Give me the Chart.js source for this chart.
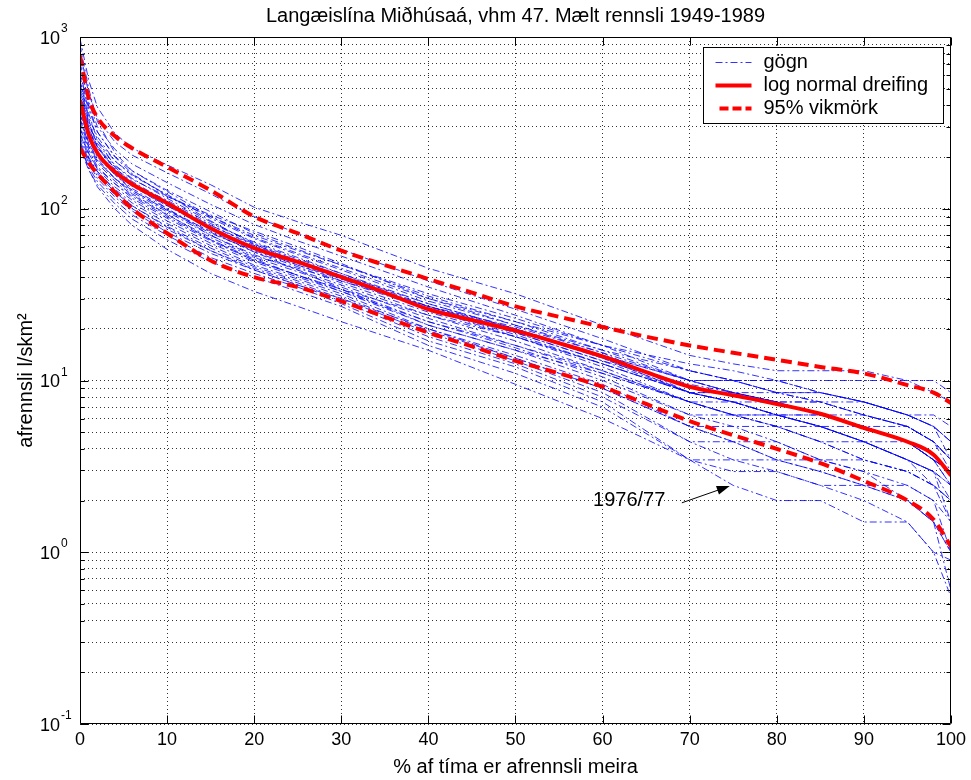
<!DOCTYPE html>
<html>
<head>
<meta charset="utf-8">
<script src="https://cdn.jsdelivr.net/npm/chart.js@4.4.1/dist/chart.umd.min.js"></script>
<style>
  html, body { margin: 0; padding: 0; background: #fff; }
</style>
</head>
<body>
<canvas id="fdc" width="971" height="780"></canvas>
<script>
// % of time the flow is exceeded (x grid of the measured curves)
const pctTime = [0, 1, 2, 4, 6, 10, 15, 20, 25, 30, 40, 50, 60, 70, 75, 80, 85, 90, 95, 98, 100];
// x grid of the fitted curves
const fitPct = [0, 1, 2, 4, 6, 10, 15, 20, 25, 30, 35, 40, 45, 50, 55, 60, 65, 70, 75, 80, 85, 90, 95, 98, 100];

// fitted log normal curve and its 95% band (l/s/km2)
const logNormal = [430, 270, 211, 164, 139, 108, 77, 59, 49, 40, 32.5, 26, 22.5, 19.5, 16.5, 13.8, 11.2, 9.2, 8.2, 7.3, 6.4, 5.3, 4.4, 3.7, 2.8];
const upper95   = [780, 440, 340, 265, 225, 175, 128, 90, 72, 57, 47, 39, 32.5, 27, 23.5, 20.5, 18, 16, 14.5, 13.2, 12, 11, 9.4, 8.5, 7.4];
const lower95   = [226, 185, 160, 125, 100, 72, 50, 40, 35, 29, 23.5, 19, 15.8, 13, 11, 9.2, 7.3, 5.8, 4.8, 4.0, 3.3, 2.6, 2.0, 1.55, 1.08];

// measured yearly duration curves (gögn)
const yearlyFlows = [
  [980, 560, 390, 275, 225, 180, 138, 102, 84, 70, 45, 32, 21, 14, 12.5, 11.4, 11.4, 11.4, 10, 10, 8.5],
  [820, 470, 335, 245, 205, 162, 122, 90, 72, 58, 38, 26, 17.5, 11.4, 10, 10, 10, 10, 10, 8.5, 7.5],
  [700, 420, 300, 222, 182, 142, 106, 81, 65, 53, 35, 24, 16, 10, 10, 8.5, 8.5, 7.5, 6.3, 6.3, 5.4],
  [620, 380, 280, 202, 166, 128, 96, 72, 58, 47, 31, 22, 15, 10, 8.5, 8.5, 7.5, 6.3, 5.4, 4.4, 3.45],
  [560, 340, 262, 190, 156, 121, 88, 67, 54, 44, 29, 21, 14.5, 8.5, 8.5, 7.5, 6.3, 6.3, 5.4, 4.4, 3.45],
  [520, 310, 240, 180, 150, 115, 84, 63, 51, 42, 28, 20, 13.5, 8.5, 7.5, 7.5, 6.3, 5.4, 4.4, 3.45, 2.95],
  [480, 292, 226, 172, 144, 110, 80, 61, 49, 40, 27, 19, 13, 9.5, 8.5, 7.5, 7.5, 6.3, 5.4, 4.4, 3.45],
  [450, 272, 212, 164, 137, 104, 76, 58, 47, 38, 26, 18.5, 12.5, 8.5, 7.5, 6.3, 5.4, 5.4, 4.4, 3.45, 2.45],
  [420, 252, 200, 158, 131, 100, 73, 56, 46, 37, 25, 18, 12, 7.5, 7.5, 6.3, 6.3, 5.4, 4.4, 3.45, 2.95],
  [390, 240, 190, 150, 125, 96, 70, 54, 44, 36, 24, 17, 11.4, 7.5, 6.3, 6.3, 5.4, 4.4, 3.45, 2.95, 2.45],
  [360, 230, 184, 145, 120, 92, 68, 52, 43, 35, 23, 16, 11, 7.5, 6.3, 5.4, 5.4, 4.4, 3.45, 2.95, 2.0],
  [340, 220, 176, 140, 115, 88, 65, 50, 41, 34, 22, 15.5, 10.5, 6.3, 6.3, 5.4, 4.4, 4.4, 3.45, 2.45, 2.0],
  [320, 210, 170, 134, 112, 85, 63, 49, 40, 33, 21, 15, 10, 6.3, 5.4, 5.4, 4.4, 3.45, 2.95, 2.45, 1.5],
  [300, 200, 164, 130, 108, 82, 61, 47, 39, 32, 20, 14, 9.5, 5.4, 5.4, 4.4, 3.45, 3.45, 2.95, 2.45, 2.0],
  [280, 195, 160, 125, 104, 79, 59, 46, 38, 31, 19.5, 13.5, 9, 5.4, 4.4, 4.4, 3.45, 2.95, 2.45, 2.0, 1.5],
  [262, 190, 155, 120, 100, 76, 57, 45, 37, 30, 19, 13, 8.5, 4.4, 4.4, 3.45, 3.45, 2.95, 2.0, 1.5, 1.0],
  [250, 184, 150, 117, 97, 73, 55, 44, 36, 29, 18, 12.5, 8, 4.4, 3.45, 3.45, 2.95, 2.45, 2.0, 1.5, 1.0],
  [238, 175, 144, 112, 92, 70, 52, 42, 35, 28, 17, 12, 7.5, 3.45, 3.45, 2.95, 2.45, 2.45, 2.0, 1.5, 0.6],
  [226, 168, 138, 107, 87, 66, 49, 40, 33, 27, 16, 11, 7, 3.45, 2.95, 2.95, 2.45, 2.0, 1.5, 1.0, 0.55],
  [600, 330, 232, 170, 140, 112, 82, 64, 52, 42, 27, 20, 14, 10, 8.5, 7.5, 7.5, 6.3, 5.4, 4.4, 2.95],
  [380, 262, 206, 160, 135, 104, 78, 60, 48, 39, 26, 19, 13, 8.5, 8.5, 7.5, 6.3, 5.4, 4.4, 3.45, 2.45],
  [500, 300, 216, 158, 128, 98, 72, 57, 47, 39, 27, 20.5, 14.5, 10, 10, 8.5, 8.5, 7.5, 6.3, 5.4, 4.4],
  [330, 240, 196, 150, 122, 93, 66, 50, 41, 34, 24, 18, 12.5, 8.5, 7.5, 6.3, 5.4, 4.4, 3.45, 2.95, 2.45],
  [900, 500, 322, 212, 166, 126, 90, 70, 57, 47, 32, 23, 16, 11.4, 10, 10, 8.5, 7.5, 6.3, 5.4, 4.4],
  [760, 400, 280, 200, 160, 118, 92, 74, 60, 48, 30, 21, 15, 11.4, 10, 8.5, 7.5, 7.5, 6.3, 5.4, 4.4],
  [350, 280, 230, 175, 140, 100, 70, 53, 45, 38, 27, 19.5, 13.5, 8.5, 7.5, 6.3, 6.3, 5.4, 4.4, 3.45, 2.95],
  [290, 230, 190, 150, 128, 98, 74, 56, 44, 34, 21, 15, 11, 7.5, 6.3, 5.4, 4.4, 3.45, 2.95, 2.45, 2.0],
  [660, 360, 250, 178, 148, 118, 90, 68, 55, 45, 30, 22, 16, 12.5, 11.4, 10, 8.5, 7.5, 6.3, 5.4, 3.45],
  [270, 210, 172, 140, 118, 90, 66, 51, 41, 33, 22, 16, 11.4, 7.5, 6.3, 6.3, 5.4, 4.4, 3.45, 2.95, 1.5],
  [420, 300, 250, 190, 158, 120, 85, 62, 49, 40, 26, 18, 12.5, 8.5, 7.5, 6.3, 5.4, 4.4, 4.4, 3.45, 2.95],
  [240, 195, 165, 128, 104, 78, 57, 44, 36, 30, 20, 13.5, 9, 5.4, 4.4, 3.45, 2.95, 2.45, 2.45, 2.0, 1.0],
  [540, 320, 228, 168, 138, 106, 80, 62, 50, 41, 28, 20, 14, 10, 8.5, 7.5, 6.3, 5.4, 5.4, 4.4, 3.45]
];
// the dry year that gets the arrow
const dry1976 = [240, 170, 134, 100, 80, 58, 42, 33, 27, 22, 15, 9.5, 6, 3.45, 2.45, 2.0, 2.0, 1.5, 1.5, 1.0, 0.9];

const xTickValues = [0, 10, 20, 30, 40, 50, 60, 70, 80, 90, 100];
const decades = [0.1, 1, 10, 100, 1000];
const decadeExponents = ['-1', '0', '1', '2', '3'];
const minorSteps = [2, 3, 4, 5, 6, 7, 8, 9];

const titleText = 'Langæislína Miðhúsaá, vhm 47. Mælt rennsli 1949-1989';
const xTitle = '% af tíma er afrennsli meira';
const yTitle = 'afrennsli l/skm²';
const noteText = '1976/77';

const FONT = "'Liberation Sans', Arial, Helvetica, sans-serif";
Chart.defaults.font.family = FONT;
Chart.defaults.color = '#000';

// log grid values: every 1..9 x decade
const yGridValues = [];
decades.forEach((d, i) => {
  yGridValues.push(d);
  if (i < decades.length - 1) minorSteps.forEach(m => yGridValues.push(+(d * m).toPrecision(3)));
});

const toPoints = (xs, arr) => xs.map((x, i) => ({x: x, y: arr[i]}));

const blueStyle = {borderColor: 'rgba(0,0,255,0.8)', borderWidth: 1, borderDash: [7, 3, 2, 3]};
const redSolid = {borderColor: '#ff0000', borderWidth: 4, borderDash: []};
const redDash = {borderColor: '#ff0000', borderWidth: 4, borderDash: [11, 6]};

const datasets = [];
yearlyFlows.concat([dry1976]).forEach(f => {
  datasets.push(Object.assign({label: 'gögn', data: toPoints(pctTime, f), order: 2, tension: 0}, blueStyle));
});
datasets.push(Object.assign({label: 'log normal dreifing', data: toPoints(fitPct, logNormal), order: 0,
  cubicInterpolationMode: 'monotone'}, redSolid));
datasets.push(Object.assign({label: '95% vikmörk', data: toPoints(fitPct, upper95), order: 1,
  cubicInterpolationMode: 'monotone'}, redDash));
datasets.push(Object.assign({label: '95% vikmörk', data: toPoints(fitPct, lower95), order: 1,
  cubicInterpolationMode: 'monotone'}, redDash));

// where the 1976/77 note sits, in data units
const note = {textAt: {x: 67.2, y: 2.0}, from: {x: 69.1, y: 1.94}, to: {x: 74.6, y: 2.43}};

// MATLAB style box, inward ticks and 10^n labels
const matlabFrame = {
  id: 'matlabFrame',
  afterDatasetsDraw(chart) {
    const {ctx, chartArea: a, scales: {x, y}} = chart;
    ctx.save();
    ctx.strokeStyle = '#000';
    ctx.lineWidth = 1;
    const L = Math.round(a.left) + 0.5, R = Math.round(a.right) - 0.5;
    const T = Math.round(a.top) + 0.5, B = Math.round(a.bottom) - 0.5;
    ctx.beginPath();
    ctx.rect(L, T, R - L, B - T);
    xTickValues.forEach(v => {
      const px = Math.round(x.getPixelForValue(v)) + 0.5;
      ctx.moveTo(px, B); ctx.lineTo(px, B - 8);
      ctx.moveTo(px, T); ctx.lineTo(px, T + 8);
    });
    yGridValues.forEach(v => {
      const py = Math.round(y.getPixelForValue(v)) + 0.5;
      const len = decades.includes(v) ? 8 : 4;
      ctx.moveTo(L, py); ctx.lineTo(L + len, py);
      ctx.moveTo(R, py); ctx.lineTo(R - len, py);
    });
    ctx.stroke();

    ctx.fillStyle = '#000';
    decades.forEach((d, i) => {
      const py = y.getPixelForValue(d);
      ctx.font = '18px ' + FONT;
      ctx.textAlign = 'right';
      ctx.textBaseline = 'alphabetic';
      ctx.fillText('10', a.left - 20, py + 6.5);
      ctx.font = '12px ' + FONT;
      ctx.textAlign = 'left';
      ctx.fillText(decadeExponents[i], a.left - 19, py - 5);
    });
    ctx.restore();
  },
  afterDraw(chart) {
    const {ctx, chartArea: a, scales: {x, y}} = chart;
    ctx.save();
    // note with arrow
    ctx.fillStyle = '#000';
    ctx.strokeStyle = '#000';
    ctx.font = '20px ' + FONT;
    ctx.textAlign = 'right';
    ctx.textBaseline = 'middle';
    ctx.fillText(noteText, x.getPixelForValue(note.textAt.x), y.getPixelForValue(note.textAt.y));
    const x0 = x.getPixelForValue(note.from.x), y0 = y.getPixelForValue(note.from.y);
    const x1 = x.getPixelForValue(note.to.x), y1 = y.getPixelForValue(note.to.y);
    const ang = Math.atan2(y1 - y0, x1 - x0);
    ctx.lineWidth = 1;
    ctx.beginPath(); ctx.moveTo(x0, y0); ctx.lineTo(x1 - 10 * Math.cos(ang), y1 - 10 * Math.sin(ang)); ctx.stroke();
    ctx.beginPath();
    ctx.moveTo(x1, y1);
    ctx.lineTo(x1 - 13 * Math.cos(ang) + 4.5 * Math.sin(ang), y1 - 13 * Math.sin(ang) - 4.5 * Math.cos(ang));
    ctx.lineTo(x1 - 13 * Math.cos(ang) - 4.5 * Math.sin(ang), y1 - 13 * Math.sin(ang) + 4.5 * Math.cos(ang));
    ctx.closePath(); ctx.fill();

    // legend box in the upper right corner
    const seen = [];
    chart.data.datasets.forEach(ds => { if (!seen.find(s => s.label === ds.label)) seen.push(ds); });
    const bw = 240, bh = 76;
    const bx = Math.round(a.right - bw - 8) + 0.5, by = Math.round(a.top + 10) + 0.5;
    ctx.fillStyle = '#fff';
    ctx.fillRect(bx, by, bw, bh);
    ctx.strokeStyle = '#000';
    ctx.lineWidth = 1;
    ctx.setLineDash([]);
    ctx.strokeRect(bx, by, bw, bh);
    ctx.font = '20px ' + FONT;
    ctx.textAlign = 'left';
    ctx.textBaseline = 'middle';
    seen.forEach((ds, i) => {
      const ry = by + 15 + i * 23;
      ctx.strokeStyle = ds.borderColor;
      ctx.lineWidth = ds.borderWidth;
      ctx.setLineDash(ds.borderDash.length ? (ds.borderWidth > 2 ? [9, 4] : ds.borderDash) : []);
      ctx.beginPath();
      ctx.moveTo(bx + 12 + (ds.borderWidth > 2 && ds.borderDash.length ? 4 : 0), ry);
      ctx.lineTo(bx + 48, ry);
      ctx.stroke();
      ctx.setLineDash([]);
      ctx.fillStyle = '#000';
      ctx.fillText(ds.label, bx + 60, ry);
    });
    ctx.restore();
  }
};

new Chart(document.getElementById('fdc'), {
  type: 'line',
  data: {datasets: datasets},
  options: {
    responsive: false,
    animation: false,
    layout: {padding: {top: 0, right: 20, bottom: 0, left: 0}},
    elements: {point: {radius: 0, hoverRadius: 0}, line: {fill: false}},
    plugins: {
      legend: {display: false},
      tooltip: {enabled: false},
      title: {
        display: true, text: titleText, color: '#000', fullSize: false,
        font: {size: 20, weight: 'normal', family: FONT},
        padding: {top: 4, bottom: 9}
      }
    },
    scales: {
      x: {
        type: 'linear', min: 0, max: 100,
        ticks: {stepSize: 10, font: {size: 18}, color: '#000', padding: 5, maxRotation: 0},
        grid: {color: '#333', lineWidth: 1, drawTicks: false, borderDash: [1, 3]},
        border: {display: false, dash: [1, 3]},
        title: {display: true, text: xTitle, font: {size: 20}, color: '#000', padding: {top: 0, bottom: 1}},
        afterFit: s => { s.height = 56; }
      },
      y: {
        type: 'logarithmic', min: 0.1, max: 1000,
        afterBuildTicks: s => { s.ticks = yGridValues.map(v => ({value: v})); },
        ticks: {autoSkip: false, callback: () => ''},
        grid: {color: '#333', lineWidth: 1, drawTicks: false, borderDash: [1, 3]},
        border: {display: false, dash: [1, 3]},
        title: {display: true, text: yTitle, font: {size: 20}, color: '#000', padding: {top: 14, bottom: 0}},
        afterFit: s => { s.width = 80; }
      }
    }
  },
  plugins: [matlabFrame]
});
</script>
</body>
</html>
